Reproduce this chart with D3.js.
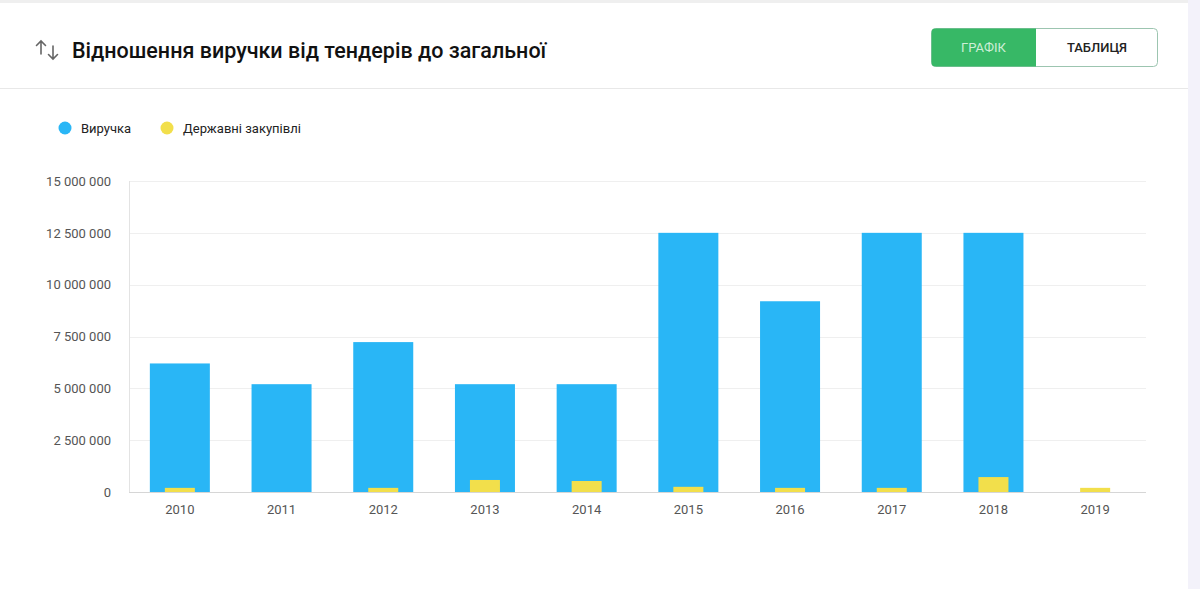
<!DOCTYPE html>
<html><head><meta charset="utf-8">
<script src="https://cdn.jsdelivr.net/npm/d3@7"></script>
<style>
html,body{margin:0;padding:0;background:#f3f2fa;}
body{width:1200px;height:589px;overflow:hidden;font-family:Roboto,"Noto Sans",Arial,sans-serif;}
</style></head><body>
<svg id="c" width="1200" height="589"></svg>
<script>
const years = ["2010","2011","2012","2013","2014","2015","2016","2017","2018","2019"];
const revenue = [6200000, 5200000, 7230000, 5200000, 5200000, 12500000, 9200000, 12500000, 12500000, 0];
const tenders = [200000, 0, 200000, 580000, 530000, 250000, 200000, 200000, 720000, 200000];
const yTicks = [0, 2500000, 5000000, 7500000, 10000000, 12500000, 15000000];
const seriesNames = ["Виручка", "Державні закупівлі"];
const colors = ["#29b6f6", "#f2df4b"];

const svg = d3.select("#c");
// card
svg.append("rect").attr("x",0).attr("y",0).attr("width",1188).attr("height",589).attr("fill","#fff");
svg.append("rect").attr("x",0).attr("y",0).attr("width",1188).attr("height",3).attr("fill","#efefef");
svg.append("line").attr("x1",0).attr("x2",1188).attr("y1",88.5).attr("y2",88.5).attr("stroke","#e8e8e8");

// title icon (up / down arrows)
const ic = svg.append("g").attr("stroke","#666").attr("stroke-width",1.6).attr("fill","none").attr("stroke-linecap","round");
ic.append("path").attr("d","M41,54 V41 M36.5,45.5 L41,41 L45.5,45.5");
ic.append("path").attr("d","M53,46 V59 M48.5,54.5 L53,59 L57.5,54.5");
svg.append("text").attr("x",72).attr("y",58).attr("font-size",21.5).attr("font-weight",500).attr("fill","#111").text("Відношення виручки від тендерів до загальної");

// buttons
svg.append("rect").attr("x",931.5).attr("y",28.5).attr("width",226).attr("height",38).attr("rx",4).attr("fill","#fff").attr("stroke","#9cc5b0");
svg.append("path").attr("d","M935.5,28.5 H1036 V66.5 H935.5 A4,4 0 0 1 931.5,62.5 V32.5 A4,4 0 0 1 935.5,28.5 Z").attr("fill","#37b866");
svg.append("text").attr("x",983.5).attr("y",52).attr("text-anchor","middle").attr("font-size",13).attr("fill","#cdeed7").text("ГРАФІК");
svg.append("text").attr("x",1097).attr("y",52).attr("text-anchor","middle").attr("font-size",13).attr("font-weight",500).attr("fill","#222").text("ТАБЛИЦЯ");

// legend
const legX = [65, 167];
seriesNames.forEach((n,i)=>{
  svg.append("circle").attr("cx",legX[i]).attr("cy",128).attr("r",6.5).attr("fill",colors[i]);
  svg.append("text").attr("x",legX[i]+16).attr("y",132.5).attr("font-size",13).attr("fill","#222").text(n);
});

// chart
const m = {l:129, r:1146, t:181, b:492};
const x = d3.scaleBand().domain(years).range([m.l, m.r]).paddingInner(0.41).paddingOuter(0.205);
const y = d3.scaleLinear().domain([0,15000000]).range([m.b, m.t]);
const fmt = v => d3.format(",")(v).replace(/,/g," ");

const g = svg.append("g");
g.selectAll(".grid").data(yTicks.slice(1)).join("line")
  .attr("x1",m.l).attr("x2",m.r).attr("y1",d=>Math.round(y(d))+0.5).attr("y2",d=>Math.round(y(d))+0.5)
  .attr("stroke","#efefef");

const yAxis = svg.append("g").attr("transform",`translate(${m.l-18},0)`)
  .call(d3.axisLeft(y).tickValues(yTicks).tickFormat(fmt).tickSize(0).tickPadding(0));
yAxis.select(".domain").remove();
yAxis.selectAll("text").attr("font-size",13).attr("fill","#555").attr("font-family","Roboto,sans-serif");

svg.append("line").attr("x1",m.l+0.5).attr("x2",m.l+0.5).attr("y1",m.t).attr("y2",m.b).attr("stroke","#e3e3e3");

g.selectAll(".rev").data(years).join("rect")
  .attr("x",d=>x(d)).attr("width",x.bandwidth())
  .attr("y",(d,i)=>y(revenue[i])).attr("height",(d,i)=>y(0)-y(revenue[i]))
  .attr("fill",colors[0]);
const tw = x.bandwidth()*0.5;
g.selectAll(".ten").data(years).join("rect")
  .attr("x",d=>x(d)+(x.bandwidth()-tw)/2).attr("width",tw)
  .attr("y",(d,i)=>y(tenders[i])).attr("height",(d,i)=>y(0)-y(tenders[i]))
  .attr("fill",colors[1]);

svg.append("line").attr("x1",m.l).attr("x2",m.r).attr("y1",m.b+0.5).attr("y2",m.b+0.5).attr("stroke","#d6d6d6");

const xAxis = svg.append("g").attr("transform",`translate(0,${m.b})`)
  .call(d3.axisBottom(x).tickSize(0).tickPadding(13));
xAxis.select(".domain").remove();
xAxis.selectAll("text").attr("font-size",13).attr("fill","#555").attr("font-family","Roboto,sans-serif");
</script>
</body></html>
